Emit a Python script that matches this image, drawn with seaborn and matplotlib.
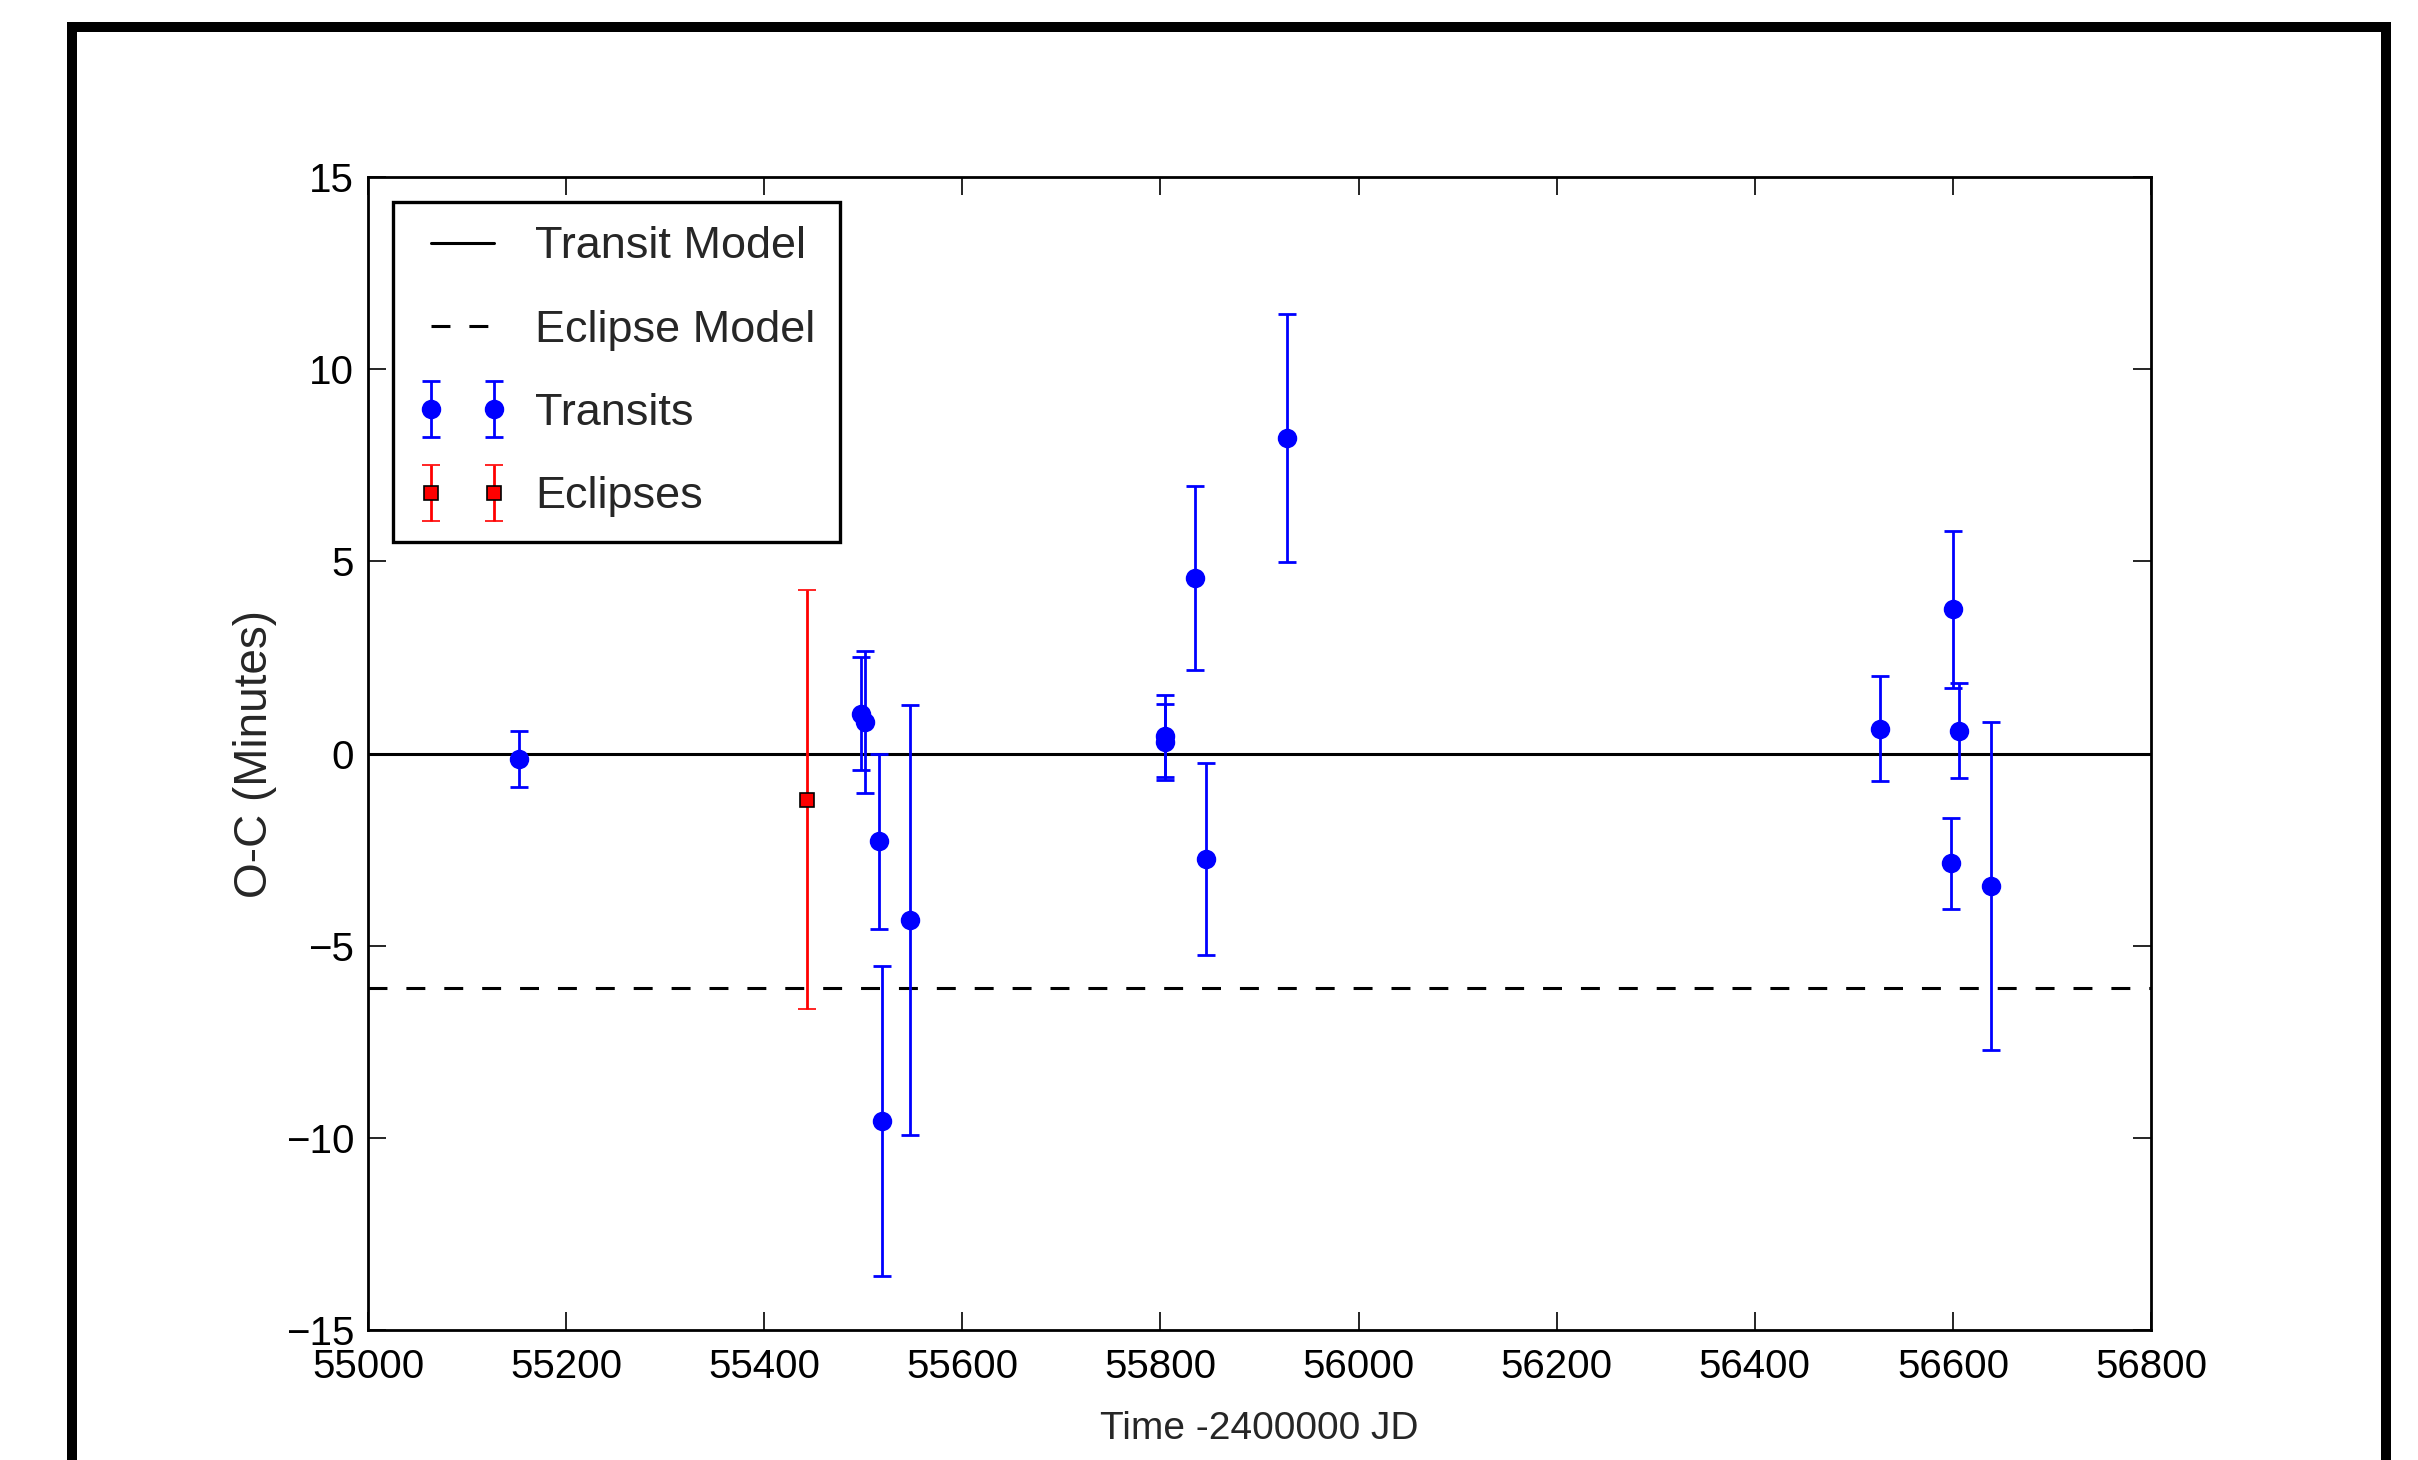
import matplotlib
matplotlib.use("Agg")
import matplotlib.pyplot as plt
import seaborn as sns
from matplotlib.patches import Rectangle
from matplotlib.container import ErrorbarContainer
from matplotlib.legend_handler import HandlerErrorbar

# -------------------------------
# O-C timing data (minutes)
# -------------------------------
transit_time = [55152, 55498, 55502, 55516, 55519, 55547,
                55805, 55805, 55835, 55846, 55928,
                56526, 56598, 56600, 56606, 56638]
transit_oc = [-0.15, 1.03, 0.81, -2.28, -9.56, -4.33,
              0.45, 0.30, 4.57, -2.74, 8.21,
              0.65, -2.86, 3.75, 0.59, -3.45]
transit_err = [0.73, 1.47, 1.85, 2.28, 4.03, 5.6,
               1.07, 1.0, 2.39, 2.5, 3.22,
               1.37, 1.18, 2.05, 1.24, 4.27]

eclipse_time = [55443]
eclipse_oc = [-1.2]
eclipse_err = [5.45]

transit_model = 0.0
eclipse_model = -6.1

sns.set_style("ticks")
plt.rcParams['font.family'] = ['Liberation Sans', 'DejaVu Sans']
plt.rcParams['axes.unicode_minus'] = True

fig = plt.figure(figsize=(12.09, 7.3), dpi=200)
ax = fig.add_axes([0.1522, 0.0890, 0.8896 - 0.1522, 0.8788 - 0.0890])

ax.axhline(transit_model, color='black', lw=1.1, label='Transit Model')
ax.axhline(eclipse_model, color='black', lw=1.1, ls=(0, (6.2, 6.2)), label='Eclipse Model')
ax.errorbar(transit_time, transit_oc, yerr=transit_err, fmt='o', color='blue',
            mec='blue', ms=6, elinewidth=1.0, capsize=3.4, capthick=1.0,
            label='Transits')
ax.errorbar(eclipse_time, eclipse_oc, yerr=eclipse_err, fmt='s', color='red',
            mfc='red', mec='black', mew=0.6, ms=5, elinewidth=1.0,
            capsize=3.4, capthick=1.0, label='Eclipses')

ax.set_xlim(55000, 56800)
ax.set_ylim(-15, 15)
ax.set_xticks(range(55000, 56801, 200))
ax.set_yticks(range(-15, 16, 5))
ax.tick_params(direction='in', top=True, right=True, length=6.5, width=0.6,
               labelsize=14.5, pad=5, colors='black')
ax.tick_params(axis='x', pad=6.5)
for s in ax.spines.values():
    s.set_linewidth(1.0)
    s.set_color('black')

ax.set_xlabel('Time -2400000 JD', fontsize=14, labelpad=9)
ax.set_ylabel('O-C (Minutes)', fontsize=16.5, labelpad=3)

leg = ax.legend(loc='upper left', numpoints=2, fontsize=16.2, handlelength=2.0,
                handletextpad=0.62, borderpad=0.55, labelspacing=0.94,
                borderaxespad=0.55, fancybox=False, framealpha=1,
                handler_map={ErrorbarContainer: HandlerErrorbar(xerr_size=0.5, yerr_size=0.62)})
leg.get_frame().set_edgecolor('black')
leg.get_frame().set_linewidth(1.2)

# thick outer frame around the figure
fig.add_artist(Rectangle((0.0298, -0.05), 0.9868 - 0.0298, 0.9815 + 0.05,
                         transform=fig.transFigure, fill=False,
                         edgecolor='black', lw=3.6))

fig.savefig('out.png', dpi=200, facecolor='white')
